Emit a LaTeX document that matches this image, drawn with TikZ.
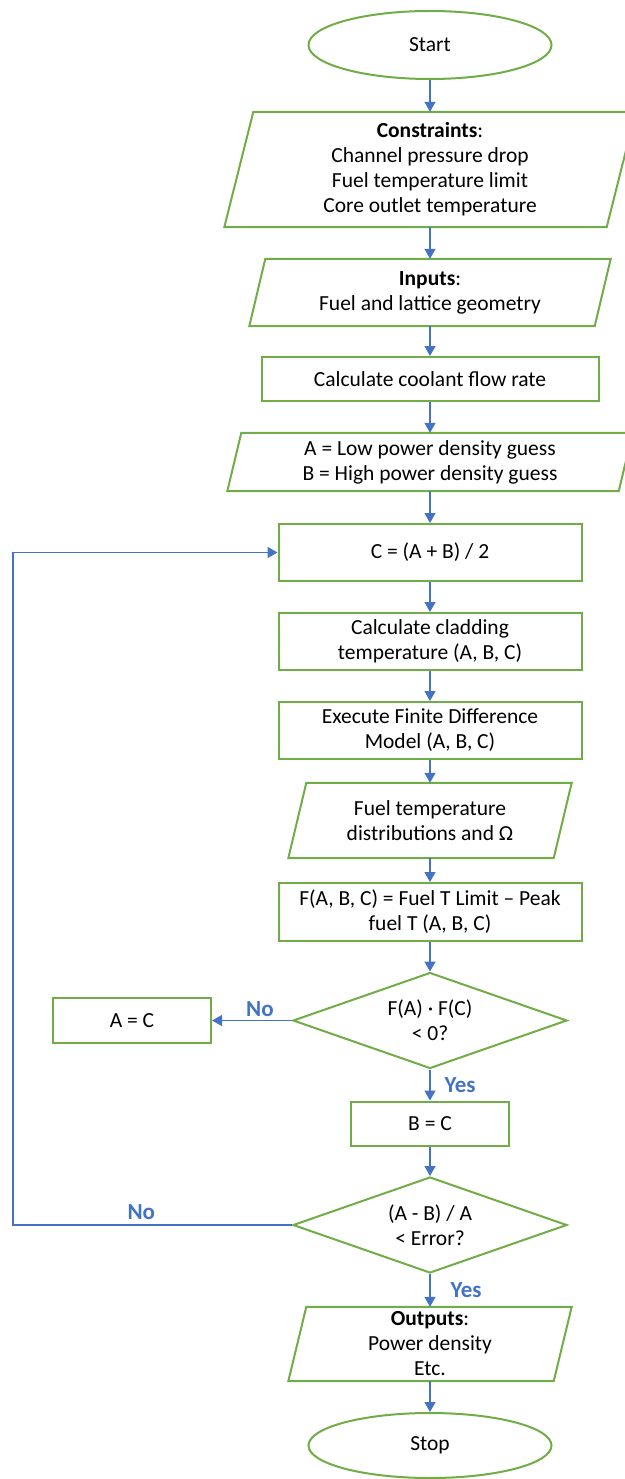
\documentclass[tikz,border=0pt]{standalone}
\usepackage{fontspec}
\setmainfont{Carlito}
\usetikzlibrary{shapes.geometric,arrows.meta,calc}
\definecolor{boxgreen}{HTML}{70AD47}
\definecolor{flowblue}{HTML}{4472C4}
\tikzset{
  txt/.style = {font=\fontsize{21.5}{25}\selectfont, align=center, inner sep=0pt},
  proc/.style = {txt, rectangle, draw=boxgreen, line width=2pt, minimum width=#1},
  proc/.default = 303pt,
  term/.style = {txt, ellipse, draw=boxgreen, line width=2pt,
                 minimum width=243pt, minimum height=68pt},
  io/.style = {txt, rectangle},
  decision/.style = {txt, diamond, aspect=2.9, draw=boxgreen, line width=2pt,
                     minimum width=274pt, minimum height=96pt},
  flow/.style = {draw=flowblue, line width=1.3pt, -{Triangle[width=11pt,length=10pt]}},
  answer/.style = {font=\fontsize{23}{26}\selectfont\bfseries, text=flowblue, inner sep=2pt}
}
% parallelogram round an io node: #1 node, #2 half slant
\newcommand\ioframe[2]{%
  \draw[boxgreen, line width=2pt] ($(#1.south west)+(-#2,0)$) -- ($(#1.north west)+(#2,0)$)
    -- ($(#1.north east)+(#2,0)$) -- ($(#1.south east)+(-#2,0)$) -- cycle;}

\begin{document}
\begin{tikzpicture}[x=1pt, y=-1pt]
	\def \mx{430}
	\useasboundingbox (0,0) rectangle (624,1479);
	
	% Terminals and boxes
	\node[term] (start) at (\mx,45) {Start};
	
	\node[io, minimum width=382pt, minimum height=115pt] (limits) at (\mx,169.5)
		{\textbf{Constraints}:\\Channel pressure drop\\Fuel temperature limit\\Core outlet temperature};
	\ioframe{limits}{14.5}
	
	\node[io, minimum width=345pt, minimum height=67pt] (inputs) at (\mx,292.5)
		{\textbf{Inputs}:\\Fuel and lattice geometry};
	\ioframe{inputs}{8}
	
	\node[proc=337pt, minimum height=44pt] (coolant) at (\mx,379) {Calculate coolant flow rate};
	
	\node[io, minimum width=391pt, minimum height=58pt] (guess) at (\mx,462)
		{A = Low power density guess\\B = High power density guess};
	\ioframe{guess}{7}
	
	\node[proc, minimum height=57pt] (mid) at (\mx,552.5) {C = (A + B) / 2};
	\node[proc, minimum height=57pt] (clad) at (\mx,641.5) {Calculate cladding\\temperature (A, B, C)};
	\node[proc, minimum height=57pt] (fdm) at (\mx,730.5) {Execute Finite Difference\\Model (A, B, C)};
	
	\node[io, minimum width=265pt, minimum height=75pt] (fuelT) at (\mx,820.5)
		{Fuel temperature\\distributions and Ω};
	\ioframe{fuelT}{9}
	
	\node[proc, minimum height=58pt] (func) at (\mx,912) {F(A, B, C) = Fuel T Limit – Peak\\fuel T (A, B, C)};
	
	\node[decision] (sign) at (\mx,1020.5) {F(A) · F(C)\\< 0?};
	\node[proc=158pt, minimum height=45pt] (setA) at (132,1020.5) {A = C};
	\node[proc=158pt, minimum height=44pt] (setB) at (\mx,1123.5) {B = C};
	
	\node[decision] (conv) at (\mx,1225) {(A - B) / A\\< Error?};
	
	\node[io, minimum width=265pt, minimum height=74pt] (outputs) at (\mx,1344)
		{\textbf{Outputs}:\\Power density\\Etc.};
	\ioframe{outputs}{9}
	
	\node[term, minimum width=243pt, minimum height=65pt] (stop) at (\mx,1445.5) {Stop};
	
	% Loop corner
	\coordinate (back) at (13,1225);
	
	% Connectors
	\draw[flow] (start) -- (limits);
	\draw[flow] (limits) -- (inputs);
	\draw[flow] (inputs) -- (coolant);
	\draw[flow] (coolant) -- (guess);
	\draw[flow] (guess) -- (mid);
	\draw[flow] (mid) -- (clad);
	\draw[flow] (clad) -- (fdm);
	\draw[flow] (fdm) -- (fuelT);
	\draw[flow] (fuelT) -- (func);
	\draw[flow] (func) -- (sign);
	\draw[flow] (sign.west) -- node[answer, pos=0.4, above=1pt] {No} (setA.east);
	\draw[flow] (sign.south) -- node[answer, right=12pt] {Yes} (setB.north);
	\draw[flow] (setB) -- (conv);
	\draw[flow] (conv.west) -- node[answer, pos=0.54, above=3pt] {No} (back) |- (mid.west);
	\draw[flow] (conv.south) -- node[answer, right=18pt] {Yes} (outputs.north);
	\draw[flow] (outputs) -- (stop);
	
\end{tikzpicture}
\end{document}
